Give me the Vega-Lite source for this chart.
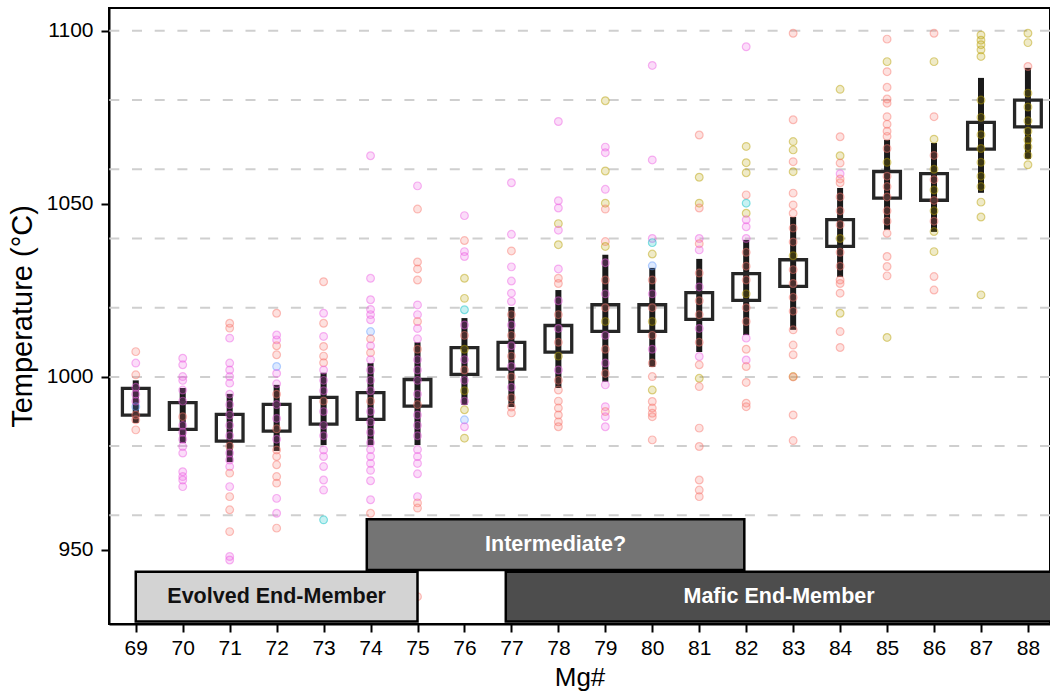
{
  "$schema": "https://vega.github.io/schema/vega-lite/v6.json",
  "width": 941,
  "height": 616,
  "autosize": {"type": "none"},
  "padding": {"left": 109, "top": 8, "right": 0, "bottom": 71},
  "background": "white",
  "config": {
    "font": "Liberation Sans",
    "view": {"stroke": "black", "strokeWidth": 2},
    "axis": {
      "domainColor": "black", "domainWidth": 2, "tickColor": "black", "tickWidth": 2, "tickSize": 8,
      "labelColor": "black", "labelFontSize": 21, "labelFont": "Liberation Sans",
      "titleColor": "black", "titleFontSize": 26, "titleFontWeight": "normal", "titleFont": "Liberation Sans",
      "grid": false
    }
  },
  "datasets": {
    "grid": [{"t": 960}, {"t": 980}, {"t": 1000}, {"t": 1020}, {"t": 1040}, {"t": 1060}, {"t": 1080}, {"t": 1100}],
    "stats": [
      {"m": 69, "mean": 992.8, "lo": 986.7, "hi": 999},
      {"m": 70, "mean": 988.7, "lo": 980.9, "hi": 996.8},
      {"m": 71, "mean": 985.3, "lo": 975.4, "hi": 995.1},
      {"m": 72, "mean": 988.2, "lo": 978.6, "hi": 997.7},
      {"m": 73, "mean": 990.2, "lo": 980.3, "hi": 1001.2},
      {"m": 74, "mean": 991.6, "lo": 980.3, "hi": 1004},
      {"m": 75, "mean": 995.4, "lo": 980.3, "hi": 1010},
      {"m": 76, "mean": 1004.6, "lo": 991.9, "hi": 1017},
      {"m": 77, "mean": 1006.1, "lo": 991.3, "hi": 1020.2},
      {"m": 78, "mean": 1011, "lo": 996.8, "hi": 1025.1},
      {"m": 79, "mean": 1017, "lo": 998.6, "hi": 1035.3},
      {"m": 80, "mean": 1017, "lo": 1002.9, "hi": 1031.5},
      {"m": 81, "mean": 1020.5, "lo": 1007.2, "hi": 1034.1},
      {"m": 82, "mean": 1026, "lo": 1012.1, "hi": 1039.6},
      {"m": 83, "mean": 1030, "lo": 1013.6, "hi": 1046.2},
      {"m": 84, "mean": 1041.6, "lo": 1028.9, "hi": 1054.6},
      {"m": 85, "mean": 1055.5, "lo": 1042.5, "hi": 1068.5},
      {"m": 86, "mean": 1054.9, "lo": 1041.9, "hi": 1067.6},
      {"m": 87, "mean": 1069.7, "lo": 1053.2, "hi": 1086.4},
      {"m": 88, "mean": 1076.1, "lo": 1063, "hi": 1089.3}
    ],
    "bands": [
      {"band": "Evolved", "label": "Evolved End-Member", "x1": 69, "x2": 75, "y1": 929.3, "y2": 943.7, "xc": 72, "yc": 936.5},
      {"band": "Intermediate", "label": "Intermediate?", "x1": 73.92, "x2": 81.96, "y1": 944.2, "y2": 958.9, "xc": 77.94, "yc": 951.5},
      {"band": "Mafic", "label": "Mafic End-Member", "x1": 76.88, "x2": 89, "y1": 929.3, "y2": 943.7, "xc": 82.7, "yc": 936.5}
    ],
    "pts": [
      {"m":69,"t":1007.3,"g":"S"},{"m":69,"t":1004,"g":"M"},{"m":69,"t":1000.6,"g":"S"},{"m":69,"t":997,"g":"M"},{"m":69,"t":995,"g":"M"},{"m":69,"t":991.4,"g":"B"},{"m":69,"t":989,"g":"S"},{"m":69,"t":987.6,"g":"S"},{"m":69,"t":984.7,"g":"S"},{"m":69,"t":993,"g":"M"},
      {"m":70,"t":1005.4,"g":"M"},{"m":70,"t":1003.5,"g":"M"},{"m":70,"t":1000.1,"g":"M"},{"m":70,"t":999,"g":"M"},{"m":70,"t":996.2,"g":"M"},{"m":70,"t":993,"g":"M"},{"m":70,"t":988.5,"g":"S"},{"m":70,"t":986,"g":"M"},{"m":70,"t":984,"g":"M"},{"m":70,"t":982,"g":"M"},{"m":70,"t":979.9,"g":"M"},{"m":70,"t":978,"g":"M"},{"m":70,"t":972.6,"g":"M"},{"m":70,"t":971.2,"g":"M"},{"m":70,"t":970.2,"g":"M"},{"m":70,"t":968.3,"g":"M"},
      {"m":71,"t":1015.5,"g":"S"},{"m":71,"t":1014.1,"g":"S"},{"m":71,"t":1011.2,"g":"M"},{"m":71,"t":1004,"g":"M"},{"m":71,"t":1002,"g":"M"},{"m":71,"t":1000.1,"g":"M"},{"m":71,"t":998.2,"g":"M"},{"m":71,"t":995,"g":"M"},{"m":71,"t":992,"g":"M"},{"m":71,"t":989,"g":"M"},{"m":71,"t":986,"g":"M"},{"m":71,"t":983,"g":"M"},{"m":71,"t":980,"g":"S"},{"m":71,"t":978,"g":"M"},{"m":71,"t":976,"g":"M"},{"m":71,"t":974.1,"g":"M"},{"m":71,"t":972.2,"g":"S"},{"m":71,"t":968.3,"g":"M"},{"m":71,"t":965.4,"g":"S"},{"m":71,"t":961.6,"g":"S"},{"m":71,"t":955.3,"g":"S"},{"m":71,"t":948.1,"g":"M"},{"m":71,"t":947.1,"g":"M"},
      {"m":72,"t":1018.4,"g":"S"},{"m":72,"t":1012.1,"g":"M"},{"m":72,"t":1010.7,"g":"M"},{"m":72,"t":1009,"g":"S"},{"m":72,"t":1006.4,"g":"S"},{"m":72,"t":1003,"g":"B"},{"m":72,"t":1001,"g":"M"},{"m":72,"t":998,"g":"M"},{"m":72,"t":995,"g":"S"},{"m":72,"t":992,"g":"M"},{"m":72,"t":988,"g":"M"},{"m":72,"t":985,"g":"S"},{"m":72,"t":982,"g":"M"},{"m":72,"t":978.9,"g":"S"},{"m":72,"t":977,"g":"S"},{"m":72,"t":974.6,"g":"S"},{"m":72,"t":971.2,"g":"S"},{"m":72,"t":969.3,"g":"S"},{"m":72,"t":964.9,"g":"M"},{"m":72,"t":960.6,"g":"M"},{"m":72,"t":956.3,"g":"S"},
      {"m":73,"t":1027.5,"g":"S"},{"m":73,"t":1018.4,"g":"M"},{"m":73,"t":1015.5,"g":"S"},{"m":73,"t":1011.7,"g":"M"},{"m":73,"t":1008.8,"g":"S"},{"m":73,"t":1006,"g":"S"},{"m":73,"t":1004.1,"g":"S"},{"m":73,"t":1002,"g":"M"},{"m":73,"t":999,"g":"M"},{"m":73,"t":996,"g":"M"},{"m":73,"t":993,"g":"S"},{"m":73,"t":990,"g":"M"},{"m":73,"t":986,"g":"M"},{"m":73,"t":983,"g":"M"},{"m":73,"t":978.9,"g":"M"},{"m":73,"t":977,"g":"M"},{"m":73,"t":974.1,"g":"M"},{"m":73,"t":970.2,"g":"M"},{"m":73,"t":967.3,"g":"M"},{"m":73,"t":958.7,"g":"T"},
      {"m":74,"t":1063.9,"g":"M"},{"m":74,"t":1028.5,"g":"M"},{"m":74,"t":1022.3,"g":"M"},{"m":74,"t":1019.5,"g":"M"},{"m":74,"t":1018,"g":"M"},{"m":74,"t":1016.5,"g":"M"},{"m":74,"t":1013.1,"g":"B"},{"m":74,"t":1011,"g":"S"},{"m":74,"t":1009,"g":"M"},{"m":74,"t":1007,"g":"S"},{"m":74,"t":1005,"g":"M"},{"m":74,"t":1002,"g":"M"},{"m":74,"t":999,"g":"M"},{"m":74,"t":996,"g":"M"},{"m":74,"t":993,"g":"S"},{"m":74,"t":990,"g":"M"},{"m":74,"t":987,"g":"M"},{"m":74,"t":984,"g":"M"},{"m":74,"t":981,"g":"M"},{"m":74,"t":979,"g":"M"},{"m":74,"t":977,"g":"M"},{"m":74,"t":975,"g":"M"},{"m":74,"t":973,"g":"M"},{"m":74,"t":970,"g":"M"},{"m":74,"t":964.5,"g":"M"},{"m":74,"t":960.6,"g":"S"},
      {"m":75,"t":1055.2,"g":"M"},{"m":75,"t":1048.5,"g":"S"},{"m":75,"t":1033.2,"g":"S"},{"m":75,"t":1031.2,"g":"S"},{"m":75,"t":1028,"g":"S"},{"m":75,"t":1020.8,"g":"M"},{"m":75,"t":1018,"g":"M"},{"m":75,"t":1016,"g":"S"},{"m":75,"t":1014,"g":"M"},{"m":75,"t":1011,"g":"M"},{"m":75,"t":1008,"g":"S"},{"m":75,"t":1005,"g":"M"},{"m":75,"t":1002,"g":"M"},{"m":75,"t":999,"g":"M"},{"m":75,"t":995,"g":"M"},{"m":75,"t":992,"g":"S"},{"m":75,"t":989,"g":"M"},{"m":75,"t":986,"g":"M"},{"m":75,"t":983,"g":"M"},{"m":75,"t":979,"g":"M"},{"m":75,"t":977,"g":"M"},{"m":75,"t":975,"g":"M"},{"m":75,"t":972,"g":"M"},{"m":75,"t":965.4,"g":"M"},{"m":75,"t":963.6,"g":"S"},{"m":75,"t":962.1,"g":"S"},{"m":75,"t":936.5,"g":"S"},
      {"m":76,"t":1046.6,"g":"M"},{"m":76,"t":1039.4,"g":"S"},{"m":76,"t":1036.2,"g":"M"},{"m":76,"t":1034.8,"g":"M"},{"m":76,"t":1028.5,"g":"O"},{"m":76,"t":1022.7,"g":"O"},{"m":76,"t":1019.4,"g":"T"},{"m":76,"t":1015,"g":"M"},{"m":76,"t":1012,"g":"S"},{"m":76,"t":1008,"g":"O"},{"m":76,"t":1005,"g":"M"},{"m":76,"t":1002,"g":"S"},{"m":76,"t":999,"g":"M"},{"m":76,"t":996,"g":"O"},{"m":76,"t":993,"g":"M"},{"m":76,"t":990.5,"g":"O"},{"m":76,"t":987.6,"g":"B"},{"m":76,"t":985.6,"g":"M"},{"m":76,"t":982.3,"g":"O"},
      {"m":77,"t":1056.1,"g":"M"},{"m":77,"t":1041.2,"g":"M"},{"m":77,"t":1036.4,"g":"S"},{"m":77,"t":1031.8,"g":"M"},{"m":77,"t":1027.7,"g":"M"},{"m":77,"t":1024.2,"g":"M"},{"m":77,"t":1021.8,"g":"M"},{"m":77,"t":1018,"g":"S"},{"m":77,"t":1015,"g":"M"},{"m":77,"t":1012,"g":"S"},{"m":77,"t":1009,"g":"M"},{"m":77,"t":1006,"g":"S"},{"m":77,"t":1003,"g":"M"},{"m":77,"t":1000,"g":"S"},{"m":77,"t":997,"g":"M"},{"m":77,"t":994,"g":"S"},{"m":77,"t":991.3,"g":"S"},{"m":77,"t":989.6,"g":"S"},
      {"m":78,"t":1073.8,"g":"M"},{"m":78,"t":1050.9,"g":"M"},{"m":78,"t":1048.8,"g":"M"},{"m":78,"t":1044.3,"g":"O"},{"m":78,"t":1042.4,"g":"M"},{"m":78,"t":1038.2,"g":"O"},{"m":78,"t":1031.2,"g":"M"},{"m":78,"t":1028.5,"g":"S"},{"m":78,"t":1027,"g":"S"},{"m":78,"t":1022,"g":"M"},{"m":78,"t":1018,"g":"S"},{"m":78,"t":1014,"g":"M"},{"m":78,"t":1010,"g":"S"},{"m":78,"t":1006,"g":"O"},{"m":78,"t":1002,"g":"M"},{"m":78,"t":999,"g":"S"},{"m":78,"t":996.2,"g":"S"},{"m":78,"t":993,"g":"S"},{"m":78,"t":991,"g":"S"},{"m":78,"t":989,"g":"S"},{"m":78,"t":987,"g":"S"},{"m":78,"t":985.6,"g":"S"},
      {"m":79,"t":1079.8,"g":"O"},{"m":79,"t":1066.4,"g":"M"},{"m":79,"t":1064.8,"g":"M"},{"m":79,"t":1059.5,"g":"O"},{"m":79,"t":1054.2,"g":"M"},{"m":79,"t":1050.2,"g":"O"},{"m":79,"t":1048.5,"g":"S"},{"m":79,"t":1039.1,"g":"S"},{"m":79,"t":1037.7,"g":"O"},{"m":79,"t":1033,"g":"M"},{"m":79,"t":1028,"g":"S"},{"m":79,"t":1024,"g":"M"},{"m":79,"t":1020,"g":"S"},{"m":79,"t":1016,"g":"O"},{"m":79,"t":1012,"g":"M"},{"m":79,"t":1008,"g":"S"},{"m":79,"t":1004,"g":"M"},{"m":79,"t":1001,"g":"S"},{"m":79,"t":997.7,"g":"M"},{"m":79,"t":991.4,"g":"M"},{"m":79,"t":990,"g":"S"},{"m":79,"t":988.5,"g":"M"},{"m":79,"t":985.6,"g":"M"},
      {"m":80,"t":1090,"g":"M"},{"m":80,"t":1062.7,"g":"M"},{"m":80,"t":1040,"g":"M"},{"m":80,"t":1038.8,"g":"T"},{"m":80,"t":1035.5,"g":"O"},{"m":80,"t":1032.1,"g":"B"},{"m":80,"t":1028,"g":"S"},{"m":80,"t":1024,"g":"M"},{"m":80,"t":1020,"g":"S"},{"m":80,"t":1016,"g":"O"},{"m":80,"t":1012,"g":"S"},{"m":80,"t":1008,"g":"M"},{"m":80,"t":1004,"g":"S"},{"m":80,"t":1000.1,"g":"S"},{"m":80,"t":996.2,"g":"O"},{"m":80,"t":992.9,"g":"S"},{"m":80,"t":991,"g":"S"},{"m":80,"t":989.5,"g":"S"},{"m":80,"t":988.5,"g":"S"},{"m":80,"t":981.8,"g":"S"},
      {"m":81,"t":1069.9,"g":"S"},{"m":81,"t":1057.7,"g":"O"},{"m":81,"t":1050.2,"g":"O"},{"m":81,"t":1048.8,"g":"S"},{"m":81,"t":1040,"g":"M"},{"m":81,"t":1038.5,"g":"S"},{"m":81,"t":1036.7,"g":"M"},{"m":81,"t":1030,"g":"S"},{"m":81,"t":1026,"g":"M"},{"m":81,"t":1022,"g":"S"},{"m":81,"t":1018,"g":"S"},{"m":81,"t":1014,"g":"M"},{"m":81,"t":1010,"g":"S"},{"m":81,"t":1005.9,"g":"M"},{"m":81,"t":1003.5,"g":"S"},{"m":81,"t":999.6,"g":"O"},{"m":81,"t":997.2,"g":"S"},{"m":81,"t":985.2,"g":"S"},{"m":81,"t":979.9,"g":"S"},{"m":81,"t":970.2,"g":"S"},{"m":81,"t":967.3,"g":"S"},{"m":81,"t":965.4,"g":"S"},
      {"m":82,"t":1095.4,"g":"M"},{"m":82,"t":1066.6,"g":"O"},{"m":82,"t":1061.9,"g":"O"},{"m":82,"t":1059,"g":"O"},{"m":82,"t":1052.6,"g":"S"},{"m":82,"t":1050.2,"g":"T"},{"m":82,"t":1047.3,"g":"O"},{"m":82,"t":1045.4,"g":"M"},{"m":82,"t":1043.4,"g":"M"},{"m":82,"t":1040,"g":"M"},{"m":82,"t":1036,"g":"S"},{"m":82,"t":1032,"g":"S"},{"m":82,"t":1028,"g":"S"},{"m":82,"t":1024,"g":"O"},{"m":82,"t":1020,"g":"S"},{"m":82,"t":1016,"g":"S"},{"m":82,"t":1011.2,"g":"M"},{"m":82,"t":1008,"g":"S"},{"m":82,"t":1004.9,"g":"M"},{"m":82,"t":1003,"g":"S"},{"m":82,"t":998.4,"g":"S"},{"m":82,"t":992.4,"g":"S"},{"m":82,"t":991.4,"g":"S"},
      {"m":83,"t":1099.3,"g":"S"},{"m":83,"t":1074.3,"g":"S"},{"m":83,"t":1068,"g":"O"},{"m":83,"t":1065.6,"g":"O"},{"m":83,"t":1062.2,"g":"S"},{"m":83,"t":1059.3,"g":"O"},{"m":83,"t":1053.1,"g":"S"},{"m":83,"t":1049.7,"g":"S"},{"m":83,"t":1047.3,"g":"S"},{"m":83,"t":1043,"g":"S"},{"m":83,"t":1039,"g":"S"},{"m":83,"t":1035,"g":"O"},{"m":83,"t":1031,"g":"S"},{"m":83,"t":1027,"g":"S"},{"m":83,"t":1023,"g":"S"},{"m":83,"t":1019,"g":"S"},{"m":83,"t":1013.6,"g":"S"},{"m":83,"t":1009.2,"g":"S"},{"m":83,"t":1006.4,"g":"S"},{"m":83,"t":1000.1,"g":"O"},{"m":83,"t":1000,"g":"S"},{"m":83,"t":989,"g":"S"},{"m":83,"t":981.6,"g":"S"},
      {"m":84,"t":1083.1,"g":"O"},{"m":84,"t":1069.4,"g":"S"},{"m":84,"t":1063.9,"g":"O"},{"m":84,"t":1061.8,"g":"S"},{"m":84,"t":1058.7,"g":"M"},{"m":84,"t":1057.2,"g":"S"},{"m":84,"t":1056.1,"g":"S"},{"m":84,"t":1052,"g":"S"},{"m":84,"t":1048,"g":"S"},{"m":84,"t":1044,"g":"S"},{"m":84,"t":1040,"g":"O"},{"m":84,"t":1036,"g":"S"},{"m":84,"t":1032,"g":"S"},{"m":84,"t":1028,"g":"S"},{"m":84,"t":1027,"g":"S"},{"m":84,"t":1024.2,"g":"S"},{"m":84,"t":1018.4,"g":"O"},{"m":84,"t":1013.1,"g":"S"},{"m":84,"t":1008.5,"g":"S"},
      {"m":85,"t":1097.6,"g":"S"},{"m":85,"t":1091.1,"g":"O"},{"m":85,"t":1088.2,"g":"S"},{"m":85,"t":1083.7,"g":"S"},{"m":85,"t":1080.3,"g":"S"},{"m":85,"t":1079.1,"g":"S"},{"m":85,"t":1075.2,"g":"S"},{"m":85,"t":1073,"g":"S"},{"m":85,"t":1071,"g":"S"},{"m":85,"t":1069.5,"g":"S"},{"m":85,"t":1066,"g":"S"},{"m":85,"t":1062,"g":"O"},{"m":85,"t":1058,"g":"S"},{"m":85,"t":1055,"g":"S"},{"m":85,"t":1052,"g":"S"},{"m":85,"t":1048,"g":"S"},{"m":85,"t":1045,"g":"S"},{"m":85,"t":1041.5,"g":"S"},{"m":85,"t":1034.8,"g":"S"},{"m":85,"t":1031.9,"g":"S"},{"m":85,"t":1029.2,"g":"S"},{"m":85,"t":1011.4,"g":"O"},
      {"m":86,"t":1099.3,"g":"S"},{"m":86,"t":1091.1,"g":"O"},{"m":86,"t":1075.2,"g":"S"},{"m":86,"t":1068.7,"g":"O"},{"m":86,"t":1064,"g":"S"},{"m":86,"t":1060,"g":"O"},{"m":86,"t":1057,"g":"S"},{"m":86,"t":1054,"g":"O"},{"m":86,"t":1051,"g":"S"},{"m":86,"t":1048,"g":"O"},{"m":86,"t":1045,"g":"S"},{"m":86,"t":1042,"g":"O"},{"m":86,"t":1036.2,"g":"O"},{"m":86,"t":1029,"g":"S"},{"m":86,"t":1025.1,"g":"S"},
      {"m":87,"t":1098.8,"g":"O"},{"m":87,"t":1097.3,"g":"O"},{"m":87,"t":1096,"g":"O"},{"m":87,"t":1094.5,"g":"O"},{"m":87,"t":1092.6,"g":"O"},{"m":87,"t":1080,"g":"O"},{"m":87,"t":1075,"g":"O"},{"m":87,"t":1070,"g":"O"},{"m":87,"t":1066,"g":"O"},{"m":87,"t":1062,"g":"O"},{"m":87,"t":1058,"g":"O"},{"m":87,"t":1055,"g":"O"},{"m":87,"t":1050.5,"g":"O"},{"m":87,"t":1046.2,"g":"O"},{"m":87,"t":1023.7,"g":"O"},
      {"m":88,"t":1099.3,"g":"O"},{"m":88,"t":1096.6,"g":"O"},{"m":88,"t":1089.7,"g":"S"},{"m":88,"t":1082,"g":"O"},{"m":88,"t":1078,"g":"O"},{"m":88,"t":1074,"g":"O"},{"m":88,"t":1071,"g":"O"},{"m":88,"t":1068.5,"g":"O"},{"m":88,"t":1066.5,"g":"O"},{"m":88,"t":1064,"g":"O"},{"m":88,"t":1061.3,"g":"O"}
    ]
  },
  "layer": [
    {
      "data": {"name": "grid"},
      "mark": {"type": "rule", "color": "#cfcfcf", "strokeWidth": 2, "strokeDash": [10, 12.7]},
      "encoding": {
        "y": {"field": "t", "type": "quantitative", "scale": {"domain": [928.6, 1106.6], "nice": false, "zero": false},
              "axis": {"values": [950, 1000, 1050, 1100], "format": "d", "title": "Temperature (°C)", "titleFontSize": 29, "labelPadding": 8, "titlePadding": 9}}
      }
    },
    {
      "data": {"name": "stats"},
      "mark": {"type": "rule", "color": "#1a1a1a", "strokeWidth": 6},
      "encoding": {
        "x": {"field": "m", "type": "quantitative", "scale": {"domain": [68.43, 88.47], "nice": false, "zero": false},
              "axis": {"values": [69,70,71,72,73,74,75,76,77,78,79,80,81,82,83,84,85,86,87,88], "format": "d", "title": "Mg#", "labelPadding": 5, "titlePadding": 6}},
        "y": {"field": "lo", "type": "quantitative", "scale": {"domain": [928.6, 1106.6], "nice": false, "zero": false}},
        "y2": {"field": "hi"}
      }
    },
    {
      "data": {"name": "stats"},
      "mark": {"type": "point", "shape": "square", "filled": false, "size": 713, "strokeWidth": 3.3, "color": "#262626", "opacity": 1},
      "encoding": {
        "x": {"field": "m", "type": "quantitative", "scale": {"domain": [68.43, 88.47], "nice": false, "zero": false}},
        "y": {"field": "mean", "type": "quantitative", "scale": {"domain": [928.6, 1106.6], "nice": false, "zero": false}}
      }
    },
    {
      "data": {"name": "pts"},
      "mark": {"type": "circle", "size": 60, "fillOpacity": 0.22, "strokeOpacity": 0.45, "strokeWidth": 1.2},
      "encoding": {
        "x": {"field": "m", "type": "quantitative", "scale": {"domain": [68.43, 88.47], "nice": false, "zero": false}},
        "y": {"field": "t", "type": "quantitative", "scale": {"domain": [928.6, 1106.6], "nice": false, "zero": false}},
        "color": {"field": "g", "type": "nominal", "legend": null,
                  "scale": {"domain": ["S", "O", "G", "T", "B", "M"], "range": ["#F8766D", "#B79F00", "#00BA38", "#00BFC4", "#619CFF", "#EE5FE3"]}},
        "stroke": {"field": "g", "type": "nominal", "legend": null,
                  "scale": {"domain": ["S", "O", "G", "T", "B", "M"], "range": ["#F8766D", "#B79F00", "#00BA38", "#00BFC4", "#619CFF", "#EE5FE3"]}}
      }
    },
    {
      "data": {"name": "bands"},
      "mark": {"type": "rect", "stroke": "black", "strokeWidth": 2.5, "clip": true},
      "encoding": {
        "x": {"field": "x1", "type": "quantitative", "scale": {"domain": [68.43, 88.47], "nice": false, "zero": false}},
        "x2": {"field": "x2"},
        "y": {"field": "y1", "type": "quantitative", "scale": {"domain": [928.6, 1106.6], "nice": false, "zero": false}},
        "y2": {"field": "y2"},
        "fill": {"field": "band", "type": "nominal", "legend": null,
                 "scale": {"domain": ["Evolved", "Intermediate", "Mafic"], "range": ["#d3d3d3", "#747474", "#4d4d4d"]}}
      }
    },
    {
      "data": {"name": "bands"},
      "mark": {"type": "text", "fontSize": 21.5, "fontWeight": "bold", "font": "Liberation Sans", "baseline": "middle", "align": "center"},
      "encoding": {
        "x": {"field": "xc", "type": "quantitative", "scale": {"domain": [68.43, 88.47], "nice": false, "zero": false}},
        "y": {"field": "yc", "type": "quantitative", "scale": {"domain": [928.6, 1106.6], "nice": false, "zero": false}},
        "text": {"field": "label"},
        "color": {"condition": {"test": "datum.band === 'Evolved'", "value": "#111111"}, "value": "white"}
      }
    }
  ]
}
